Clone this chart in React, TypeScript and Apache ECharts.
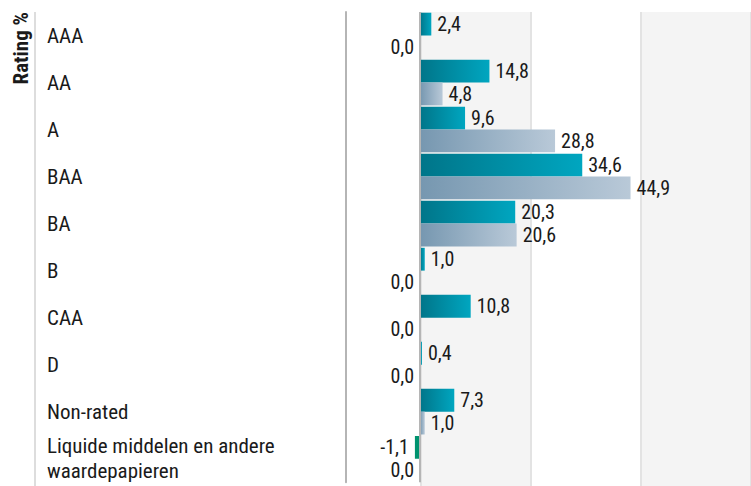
import React, { useEffect, useRef } from "react";
import * as echarts from "echarts";

const categories = [
  "AAA",
  "AA",
  "A",
  "BAA",
  "BA",
  "B",
  "CAA",
  "D",
  "Non-rated",
  "Liquide middelen en andere waardepapieren",
];
const seriesA = [2.4, 14.8, 9.6, 34.6, 20.3, 1.0, 10.8, 0.4, 7.3, -1.1];
const seriesB = [0.0, 4.8, 28.8, 44.9, 20.6, 0.0, 0.0, 0.0, 1.0, 0.0];
const axisTitle = "Rating %";

const FONT = "'Liberation Sans Narrow', 'Roboto Condensed', 'DejaVu Sans Condensed', Roboto, sans-serif";

const fmt = (v: number) => v.toFixed(1).replace(".", ",");

export default function App() {
  const ref = useRef<HTMLDivElement>(null);
  useEffect(() => {
    if (!ref.current) return;
    const chart = echarts.init(ref.current, undefined, { renderer: "svg" });
    const gradA = new echarts.graphic.LinearGradient(0, 0, 1, 0, [
      { offset: 0, color: "#007589" },
      { offset: 1, color: "#00a6c0" },
    ]);
    const gradB = new echarts.graphic.LinearGradient(0, 0, 1, 0, [
      { offset: 0, color: "#7697b0" },
      { offset: 1, color: "#b9c9d8" },
    ]);
    const mk = (vals: number[], grad: any) =>
      vals.map((v) => ({
        value: v,
        itemStyle: v < 0 ? { color: "#00936f" } : { color: grad },
        label: { position: v > 0 ? "right" : "left" },
      }));
    const labelCfg = {
      show: true,
      distance: 6,
      fontFamily: FONT,
      fontSize: 20,
      color: "#1a1a1a",
      formatter: (p: any) => fmt(p.value),
    };
    chart.setOption({
      animation: false,
      grid: [
        { left: 346, top: 12, width: 411, height: 474, containLabel: false },
        { left: 421, top: 12, width: 336, height: 474, containLabel: false },
      ],
      xAxis: [
        {
          gridIndex: 0,
          type: "value",
          min: -15.8,
          max: 70.6,
          show: false,
          splitLine: { show: false },
        },
        {
          gridIndex: 1,
          type: "value",
          min: 0,
          max: 3,
          interval: 1,
          axisLine: { show: false },
          axisTick: { show: false },
          axisLabel: { show: false },
          splitLine: { show: true, lineStyle: { color: "#e3e3e3", width: 2 } },
          splitArea: { show: true, areaStyle: { color: ["#f4f4f4", "#ffffff"] } },
        },
      ],
      yAxis: [
        {
          gridIndex: 0,
          type: "category",
          data: categories,
          inverse: true,
          axisLine: { show: true, onZero: false, lineStyle: { color: "#b5b5b5", width: 2 } },
          axisTick: { show: false },
          splitLine: { show: false },
          axisLabel: {
            align: "left",
            margin: 299,
            fontFamily: FONT,
            fontSize: 21,
            color: "#1a1a1a",
            width: 275,
            overflow: "break",
            lineHeight: 25,
            padding: [0, 0, 5, 0],
          },
        },
        {
          gridIndex: 1,
          type: "category",
          data: categories,
          inverse: true,
          show: false,
        },
      ],
      graphic: [
        {
          type: "line",
          shape: { x1: 35, y1: 12, x2: 35, y2: 486 },
          style: { stroke: "#dddddd", lineWidth: 2 },
        },
        {
          type: "text",
          x: 21,
          y: 12,
          rotation: Math.PI / 2,
          style: {
            text: axisTitle,
            font: `bold 21px ${FONT}`,
            fill: "#1a1a1a",
            textAlign: "right",
            textVerticalAlign: "middle",
          },
        },
      ],
      series: [
        {
          type: "bar",
          xAxisIndex: 0,
          yAxisIndex: 0,
          data: mk(seriesA, gradA),
          barGap: "0%",
          barCategoryGap: "3%",
          label: labelCfg,
          z: 3,
          markLine: {
            silent: true,
            symbol: "none",
            label: { show: false },
            lineStyle: { color: "#b5b5b5", width: 2, type: "solid" },
            data: [{ xAxis: 0 }],
          },
        },
        {
          type: "bar",
          xAxisIndex: 0,
          yAxisIndex: 0,
          data: mk(seriesB, gradB),
          barGap: "0%",
          barCategoryGap: "3%",
          label: labelCfg,
          z: 3,
        },
      ],
    });
    return () => chart.dispose();
  }, []);
  return <div ref={ref} style={{ width: 751, height: 486, position: "absolute", left: 0, top: 0 }} />;
}
